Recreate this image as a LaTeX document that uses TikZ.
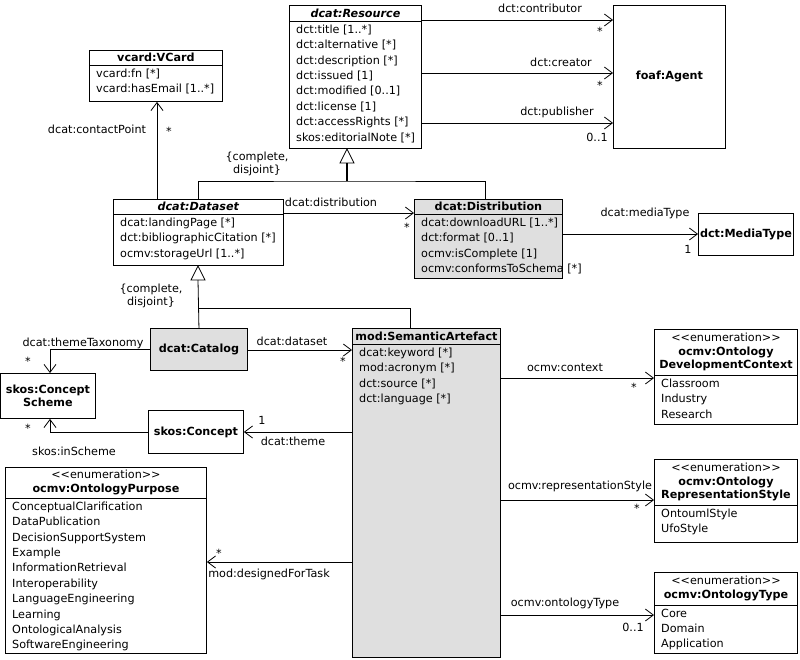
\documentclass[tikz,border=0pt]{standalone}
\usepackage{fontspec}
\setmainfont{DejaVu Sans}
\usetikzlibrary{arrows.meta,calc}
\tikzset{
 box/.style={draw,line width=0.9pt,inner sep=0pt},
 attr/.style={inner xsep=7pt,inner ysep=3.5pt,font=\fontsize{11.2}{15.4}\selectfont},
 hd/.style={font=\fontsize{11.2}{13.5}\selectfont\bfseries,inner sep=0pt},
 lbl/.style={font=\fontsize{11.2}{12}\selectfont,inner sep=1pt},
 assoc/.style={line width=0.8pt,-{Straight Barb[length=8pt,width=12pt]}},
 gen/.style={line width=0.8pt},
 grayfill/.style={fill=gray!25},
}
\newcommand{\umlbox}[9][]{%
 \node[box,#1,minimum width=#5,minimum height=#6,anchor=north west] (#2) at (#3,#4) {};
 \draw[line width=0.9pt] ($(#2.north west)+(0,#7)$) -- ($(#2.north east)+(0,#7)$);
 \node[hd,align=center] (#2-h) at ($(#2.north)+(0,#7/2)$) {#8};
 \node[attr,anchor=north west,align=left] (#2-a) at ($(#2.north west)+(0,#7)$) {#9};
}
\newcommand{\simplebox}[7][]{%
 \node[box,#1,minimum width=#5,minimum height=#6,anchor=north west] (#2) at (#3,#4) {};
 \node[hd,align=center] (#2-h) at (#2.center) {#7};
}
\newcommand{\enumst}{{\mdseries <{}<enumeration>{}>}}
\begin{document}
\begin{tikzpicture}[x=1pt,y=-1pt]
\useasboundingbox (0,0) rectangle (800,659);
% classes
\umlbox{res}{289}{5}{132}{143}{16}{\textit{dcat:Resource}}{dct:title [1..*]\\dct:alternative [*]\\dct:description [*]\\dct:issued [1]\\dct:modified [0..1]\\dct:license [1]\\dct:accessRights [*]\\skos:editorialNote [*]}
\simplebox{agent}{613}{5}{112}{143}{foaf:Agent}
\umlbox{vcard}{89}{50}{133}{51}{15}{vcard:VCard}{vcard:fn [*]\\vcard:hasEmail [1..*]}
\umlbox{ds}{113}{199}{170}{66}{15}{\textit{dcat:Dataset}}{dcat:landingPage [*]\\dct:bibliographicCitation [*]\\ocmv:storageUrl [1..*]}
\umlbox[grayfill]{dist}{414}{199}{148}{79}{15}{dcat:Distribution}{dcat:downloadURL [1..*]\\dct:format [0..1]\\ocmv:isComplete [1]\\ocmv:conformsToSchema [*]}
\simplebox{mt}{698}{213}{95}{42}{dct:MediaType}
\simplebox[grayfill]{cat}{150}{328}{97}{42}{dcat:Catalog}
\umlbox[grayfill]{sa}{352}{328}{148}{329}{16}{mod:SemanticArtefact}{dcat:keyword [*]\\mod:acronym [*]\\dct:source [*]\\dct:language [*]}
\simplebox{cs}{0}{373}{95}{45}{skos:Concept\\Scheme}
\simplebox{con}{148}{410}{95}{43}{skos:Concept}
\umlbox{purp}{5}{467}{201}{186}{31}{\enumst\\ocmv:OntologyPurpose}{\fontsize{11.2}{16.1}\selectfont ConceptualClarification\\DataPublication\\DecisionSupportSystem\\Example\\InformationRetrieval\\Interoperability\\LanguageEngineering\\Learning\\OntologicalAnalysis\\SoftwareEngineering}
\umlbox{odc}{654}{329}{143}{95}{46}{\enumst\\ocmv:Ontology\\DevelopmentContext}{Classroom\\Industry\\Research}
\umlbox{ors}{654}{459}{143}{83}{46}{\enumst\\ocmv:Ontology\\RepresentationStyle}{OntoumlStyle\\UfoStyle}
\umlbox{ot}{654}{572}{143}{81}{33}{\enumst\\ocmv:OntologyType}{Core\\Domain\\Application}
% associations Resource -> Agent
\coordinate (r1) at (res.east |- 0,20); \coordinate (a1) at (agent.west |- 0,20);
\draw[assoc] (r1) -- (a1);
\node[lbl] at (540,8) {dct:contributor}; \node[lbl] at (600,31) {*};
\coordinate (r2) at (res.east |- 0,73); \coordinate (a2) at (agent.west |- 0,73);
\draw[assoc] (r2) -- (a2);
\node[lbl] at (561,62) {dct:creator}; \node[lbl] at (600,85) {*};
\coordinate (r3) at (res.east |- 0,123); \coordinate (a3) at (agent.west |- 0,123);
\draw[assoc] (r3) -- (a3);
\node[lbl] at (557,112) {dct:publisher}; \node[lbl] at (597,137) {0..1};
% contact point
\coordinate (d1) at (ds.north -| 157,0); \coordinate (v1) at (vcard.south -| 157,0);
\draw[assoc] (d1) -- (v1);
\node[lbl] at (97,129) {dcat:contactPoint}; \node[lbl] at (169,131) {*};
% generalization to Resource
\coordinate (gt) at (347,163); \coordinate (gj) at (347,181);
\draw[gen,fill=white] (res.south -| 347,0) -- (340,163) -- (354,163) -- cycle;
\draw[line width=2pt] (gt) -- (gj);
\draw[gen] (ds.north -| 198,0) |- (gj) -| (dist.north -| 485,0);
\node[lbl,align=center,font=\fontsize{11.2}{13}\selectfont] at (257,164) {\{complete,\\disjoint\}};
% distribution
\coordinate (d2) at (ds.east |- 0,213); \coordinate (di2) at (dist.west |- 0,213);
\draw[assoc] (d2) -- (di2);
\node[lbl] at (331,202) {dcat:distribution}; \node[lbl] at (407,227) {*};
\coordinate (di3) at (dist.east |- 0,234); \coordinate (m3) at (mt.west |- 0,234);
\draw[assoc] (di3) -- (m3);
\node[lbl] at (645,213) {dcat:mediaType}; \node[lbl] at (688,249) {1};
% generalization to Dataset
\draw[gen,fill=white] (ds.south -| 198,0) -- (191,280) -- (205,280) -- cycle;
\coordinate (gj2) at (198,308);
\draw[gen] (198,280) -- (cat.north);
\draw[gen] (gj2) -| (sa.north -| 410,0);
\node[lbl,align=center,font=\fontsize{11.2}{13}\selectfont] at (151,296) {\{complete,\\disjoint\}};
% catalog
\coordinate (c1) at (cat.east |- 0,350); \coordinate (s1) at (sa.west |- 0,350);
\draw[assoc] (c1) -- (s1);
\node[lbl] at (292,341) {dcat:dataset}; \node[lbl] at (343,361) {*};
\draw[assoc] (cat.west) -| (cs.north -| 50,0);
\node[lbl] at (83,343) {dcat:themeTaxonomy}; \node[lbl] at (28,361) {*};
\draw[assoc] (con.west) -| (cs.south -| 50,0);
\node[lbl] at (74,451) {skos:inScheme}; \node[lbl] at (28,428) {*};
% SA -> others
\coordinate (s2) at (sa.west |- 0,432); \coordinate (co2) at (con.east |- 0,432);
\draw[assoc] (s2) -- (co2);
\node[lbl] at (293,441) {dcat:theme}; \node[lbl] at (262,420) {1};
\coordinate (s3) at (sa.west |- 0,562); \coordinate (p3) at (purp.east |- 0,562);
\draw[assoc] (s3) -- (p3);
\node[lbl] at (269,574) {mod:designedForTask}; \node[lbl] at (219,553) {*};
\coordinate (s4) at (sa.east |- 0,378); \coordinate (o4) at (odc.west |- 0,378);
\draw[assoc] (s4) -- (o4);
\node[lbl] at (565,368) {ocmv:context}; \node[lbl] at (634,387) {*};
\coordinate (s5) at (sa.east |- 0,500); \coordinate (o5) at (ors.west |- 0,500);
\draw[assoc] (s5) -- (o5);
\node[lbl] at (580,486) {ocmv:representationStyle}; \node[lbl] at (637,508) {*};
\coordinate (s6) at (sa.east |- 0,615); \coordinate (o6) at (ot.west |- 0,615);
\draw[assoc] (s6) -- (o6);
\node[lbl] at (565,603) {ocmv:ontologyType}; \node[lbl] at (633,627) {0..1};
\end{tikzpicture}
\end{document}
